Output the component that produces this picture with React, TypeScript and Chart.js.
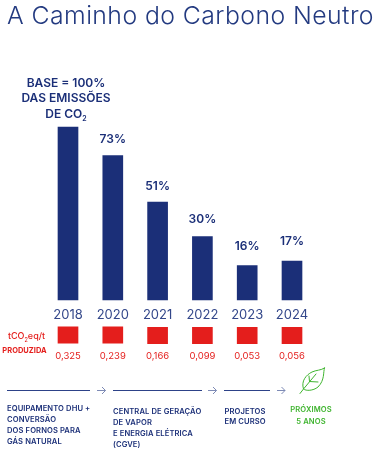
import React, { useEffect, useRef } from "react";
import { Chart, registerables } from "chart.js";

Chart.register(...registerables);

const years = ["2018", "2020", "2021", "2022", "2023", "2024"];
// Bar heights as drawn in the picture (the 2018 bar = 100)
const barHeights = [100, 83.5, 56.6, 36.7, 19.9, 22.5];
const barLabels = ["", "73%", "51%", "30%", "16%", "17%"];
const intensityTiles = [
  [-25, -15.5],
  [-25, -15.5],
  [-25.3, -15.8],
  [-25.3, -15.8],
  [-25.3, -15.8],
  [-25.3, -15.8],
];
const intensityLabels = ["0,325", "0,239", "0,166", "0,099", "0,053", "0,056"];

const NAVY = "#1b2f78";
const RED = "#e41e1c";
const GREEN = "#3fb42f";
const FONT = "Inter, 'Open Sans', sans-serif";
const labelLift = [0, 16.5, 16, 17.5, 19.5, 20];

const labelsPlugin = {
  id: "markLabels",
  afterDatasetsDraw(chart: any) {
    const { ctx } = chart;
    const bars = chart.getDatasetMeta(0).data;
    const tiles = chart.getDatasetMeta(1).data;
    ctx.save();
    ctx.textAlign = "center";
    ctx.textBaseline = "middle";
    ctx.font = `600 12px ${FONT}`;
    ctx.fillStyle = NAVY;
    barLabels.forEach((t, i) => {
      if (t) ctx.fillText(t, bars[i].x, bars[i].y - labelLift[i]);
    });
    ctx.font = `400 9.5px ${FONT}`;
    ctx.fillStyle = RED;
    intensityLabels.forEach((t, i) => {
      ctx.fillText(t, tiles[i].x, tiles[i].y + 12.5);
    });
    ctx.restore();
  },
};

function Txt({ x, y, w, align = "left", color = NAVY, size = 8, weight = 600, children, ls = 0 }: any) {
  return (
    <div
      style={{
        position: "absolute",
        left: x,
        top: y,
        width: w,
        textAlign: align,
        color,
        fontSize: size,
        fontWeight: weight,
        fontFamily: FONT,
        letterSpacing: ls,
        whiteSpace: "nowrap",
      }}
    >
      {children}
    </div>
  );
}

function Lines({ x, ys, lines, color = NAVY, w, align }: any) {
  return lines.map((l: string, i: number) => (
    <Txt key={i} x={x} y={ys[i]} w={w} align={align} color={color} size={7.6} ls={0.1}>
      {l}
    </Txt>
  ));
}

export default function App() {
  const ref = useRef<HTMLCanvasElement>(null);
  useEffect(() => {
    document.body.style.margin = "0";
    const chart = new Chart(ref.current!, {
      type: "bar",
      data: {
        labels: years,
        datasets: [
          { data: barHeights, backgroundColor: NAVY, barThickness: 20, grouped: false } as any,
          { data: intensityTiles, backgroundColor: RED, barThickness: 20, grouped: false } as any,
        ],
      },
      options: {
        animation: false,
        responsive: false,
        layout: { padding: { left: 45.6, right: 60.6, top: 0, bottom: 0 } },
        plugins: { legend: { display: false }, tooltip: { enabled: false }, title: { display: false } },
        scales: {
          y: { display: false, min: -87.3, max: 173.4 },
          x: {
            position: { y: 0 },
            grid: { display: false },
            border: { display: false },
            ticks: { color: "#33478a", font: { family: FONT, size: 13, weight: "400" as any }, padding: -1, maxRotation: 0 },
          },
        },
      },
      plugins: [labelsPlugin],
    });
    return () => chart.destroy();
  }, []);

  return (
    <div style={{ position: "relative", width: 375, height: 451, overflow: "hidden", background: "#fff" }}>
      <canvas ref={ref} width={375} height={451} style={{ position: "absolute", left: 0, top: 0 }} />
      <Txt x={7} y={0} size={24.8} weight={300} color="#233a80" ls={0.43}>A Caminho do Carbono Neutro</Txt>
      <Txt x={16} y={74.5} w={100} align="center" size={12}>BASE = 100%</Txt>
      <Txt x={16} y={90} w={100} align="center" size={12}>DAS EMISSÕES</Txt>
      <Txt x={16} y={106} w={100} align="center" size={12}>DE CO<sub style={{ fontSize: 7 }}>2</sub></Txt>
      <Txt x={0} y={330} w={53} align="center" color={RED} size={9} weight={500}>tCO<sub style={{ fontSize: 5.5 }}>2</sub>eq/t</Txt>
      <Txt x={0} y={345.5} w={49} align="center" color={RED} size={7.5} weight={700}>PRODUZIDA</Txt>
      <svg width={375} height={451} style={{ position: "absolute", left: 0, top: 0 }} fill="none">
        <g stroke="#2d4288" strokeWidth={1}>
          <path d="M7 390.5H90M113 390.5H202M224 390.5H270" />
        </g>
        <g stroke="#7d8ab5" strokeWidth={1}>
          <path d="M97 390.5H105.5M102 387L105.5 390.5L102 394" />
          <path d="M208 390.5H216.5M213 387L216.5 390.5L213 394" />
          <path d="M277 390.5H285M281.5 387L285 390.5L281.5 394" />
        </g>
        <g stroke={GREEN} strokeWidth={1} strokeLinejoin="round" strokeLinecap="round">
          <path d="M324.5 368C323 372 325 380 318 387C313 391 306 391 303.5 389C301 381 306 375 312 372C316 370 321 370.5 324.5 368Z" />
          <path d="M300 393.5L303.5 389L316 374M309.5 381.5L309 376M309.5 381.5L318 382" />
        </g>
      </svg>
      <Lines x={7} ys={[404, 415, 426, 436.5]} lines={["EQUIPAMENTO DHU +", "CONVERSÃO", "DOS FORNOS PARA", "GÁS NATURAL"]} />
      <Lines x={113} ys={[407, 418, 429, 440]} lines={["CENTRAL DE GERAÇÃO", "DE VAPOR", "E ENERGIA ELÉTRICA", "(CGVE)"]} />
      <Lines x={224.5} ys={[406.5, 417]} lines={["PROJETOS", "EM CURSO"]} />
      <Lines x={281} w={60} align="center" color={GREEN} ys={[405, 416.5]} lines={["PRÓXIMOS", "5 ANOS"]} />
    </div>
  );
}
